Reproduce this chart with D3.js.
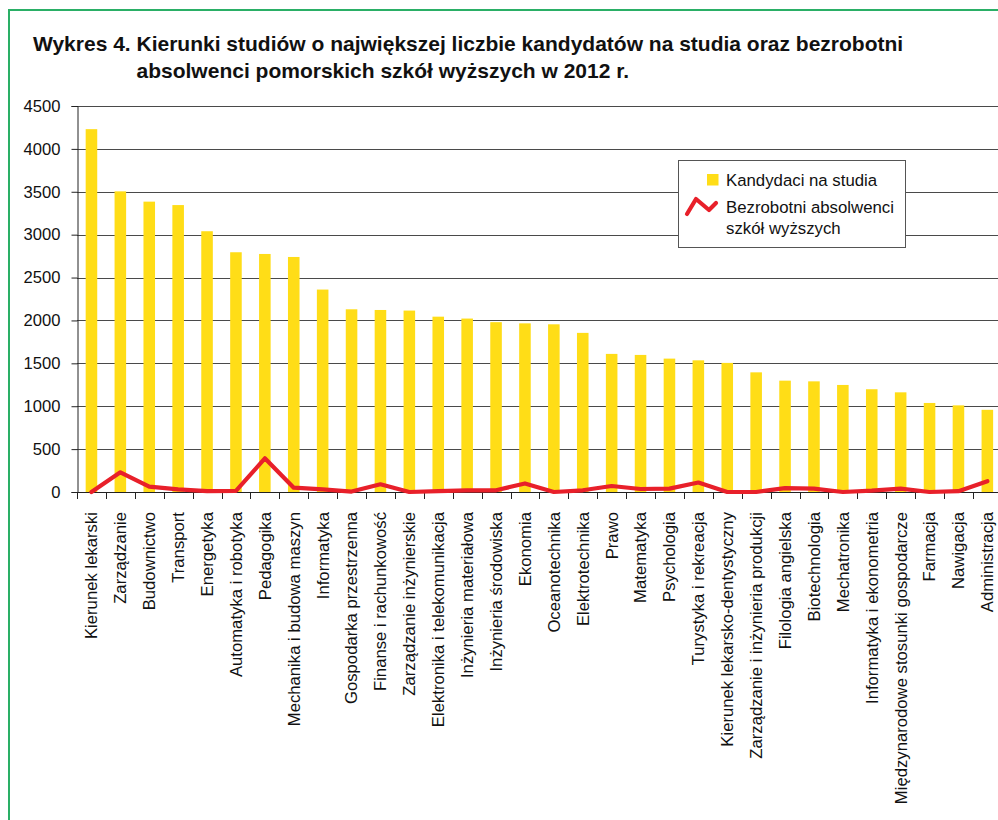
<!DOCTYPE html>
<html>
<head>
<meta charset="utf-8">
<script src="https://cdn.jsdelivr.net/npm/d3@7"></script>
<style>
  body { margin: 0; background: #fff; }
  svg { display: block; font-family: "Liberation Sans", Arial, sans-serif; }
</style>
</head>
<body>
<svg id="chart" width="998" height="820"></svg>
<script>
// kierunki studiow
const categories = [
  'Kierunek lekarski', 'Zarządzanie', 'Budownictwo', 'Transport', 'Energetyka',
  'Automatyka i robotyka', 'Pedagogika', 'Mechanika i budowa maszyn', 'Informatyka',
  'Gospodarka przestrzenna', 'Finanse i rachunkowość', 'Zarządzanie inżynierskie',
  'Elektronika i telekomunikacja', 'Inżynieria materiałowa', 'Inżynieria środowiska',
  'Ekonomia', 'Oceanotechnika', 'Elektrotechnika', 'Prawo', 'Matematyka', 'Psychologia',
  'Turystyka i rekreacja', 'Kierunek lekarsko-dentystyczny', 'Zarządzanie i inżynieria produkcji',
  'Filologia angielska', 'Biotechnologia', 'Mechatronika', 'Informatyka i ekonometria',
  'Międzynarodowe stosunki gospodarcze', 'Farmacja', 'Nawigacja', 'Administracja'
];

const kandydaci = [
  4230, 3505, 3385, 3345, 3040, 2795, 2775, 2740, 2360, 2130, 2122, 2115,
  2044, 2022, 1980, 1966, 1955, 1855, 1610, 1598, 1555, 1535, 1505, 1395,
  1298, 1290, 1248, 1198, 1162, 1038, 1010, 958
];

const bezrobotni = [
  0, 230, 62, 31, 10, 12, 393, 50, 31, 5, 90, 0,
  10, 20, 20, 100, 0, 20, 70, 35, 40, 110, 0, 0,
  45, 40, 0, 15, 40, 0, 10, 125
];

const yTicks = [0, 500, 1000, 1500, 2000, 2500, 3000, 3500, 4000, 4500];

const titlePrefix = 'Wykres 4. ';
const titleLines = [
  'Kierunki studiów o największej liczbie kandydatów na studia oraz bezrobotni',
  'absolwenci pomorskich szkół wyższych w 2012 r.'
];

const svg = d3.select('#chart');

// ramka
svg.append('rect')
  .attr('x', 9).attr('y', 10).attr('width', 1200).attr('height', 1000)
  .attr('fill', 'none').attr('stroke', '#2aaf66').attr('stroke-width', 2);

// tytul - druga linia wyrownana do "Kierunki"
const title = svg.append('text').attr('x', 33).attr('y', 51)
  .attr('font-size', 21).attr('font-weight', 'bold').attr('fill', '#111');
const pre = title.append('tspan').text(titlePrefix);
title.append('tspan').text(titleLines[0]);
const indent = 33 + pre.node().getComputedTextLength();
svg.append('text').attr('x', indent).attr('y', 78)
  .attr('font-size', 21).attr('font-weight', 'bold').attr('fill', '#111')
  .text(titleLines[1]);

const plotLeft = 77, plotTop = 106, plotBottom = 492, step = 28.9;
const plotRight = plotLeft + step * categories.length;

const x = d3.scaleBand().domain(categories).range([plotLeft, plotRight]).padding(0);
const xBar = d3.scaleBand().domain(categories).range([plotLeft, plotRight])
  .paddingInner(0.6).paddingOuter(0.3);
const y = d3.scaleLinear().domain([0, 4500]).range([plotBottom, plotTop]);

// siatka
svg.append('g').selectAll('line').data(yTicks.filter(d => d > 0)).enter()
  .append('line')
  .attr('x1', plotLeft).attr('x2', 998)
  .attr('y1', d => Math.round(y(d)) + 0.5).attr('y2', d => Math.round(y(d)) + 0.5)
  .attr('stroke', '#4a4a4a').attr('stroke-width', 1.2);

// slupki
svg.append('g').selectAll('rect').data(categories).enter()
  .append('rect')
  .attr('x', d => xBar(d))
  .attr('width', xBar.bandwidth())
  .attr('y', (d, i) => y(kandydaci[i]))
  .attr('height', (d, i) => y(0) - y(kandydaci[i]))
  .attr('fill', '#ffdd17');

// os Y
const yAxis = svg.append('g')
  .attr('transform', `translate(${plotLeft + 0.5},0)`)
  .call(d3.axisLeft(y).tickValues(yTicks).tickSize(6).tickPadding(11).tickFormat(d3.format('d')));
yAxis.select('.domain').attr('stroke', '#222');
yAxis.selectAll('.tick line').attr('stroke', '#222');
yAxis.selectAll('text').attr('font-size', 16.6).attr('fill', '#111')
  .attr('font-family', '"Liberation Sans", Arial, sans-serif');

// os X
svg.append('line')
  .attr('x1', plotLeft).attr('x2', 998)
  .attr('y1', plotBottom + 0.5).attr('y2', plotBottom + 0.5)
  .attr('stroke', '#222');
svg.append('g').selectAll('line').data(categories).enter()
  .append('line')
  .attr('x1', d => Math.round(x(d)) + 0.5).attr('x2', d => Math.round(x(d)) + 0.5)
  .attr('y1', plotBottom).attr('y2', plotBottom + 7)
  .attr('stroke', '#222');

svg.append('g').selectAll('text').data(categories).enter()
  .append('text')
  .attr('transform', d => `translate(${x(d) + x.bandwidth() / 2},512) rotate(-90)`)
  .attr('text-anchor', 'end')
  .attr('dy', '0.35em')
  .attr('font-size', 16.7).attr('fill', '#111')
  .text(d => d);

// linia bezrobotnych
const line = d3.line()
  .x((d, i) => x(categories[i]) + x.bandwidth() / 2)
  .y(d => y(d));
svg.append('path').datum(bezrobotni)
  .attr('d', line)
  .attr('fill', 'none').attr('stroke', '#e8202a').attr('stroke-width', 4.2)
  .attr('stroke-linejoin', 'round').attr('stroke-linecap', 'round');

// legenda
const lg = svg.append('g');
lg.append('rect').attr('x', 678.5).attr('y', 160.5).attr('width', 227).attr('height', 87)
  .attr('fill', '#fff').attr('stroke', '#555').attr('stroke-width', 1);
lg.append('rect').attr('x', 707).attr('y', 174).attr('width', 11.5).attr('height', 11.5)
  .attr('fill', '#ffdd17');
lg.append('path').attr('d', 'M687,214 L696,199 L709,210 L716,203')
  .attr('fill', 'none').attr('stroke', '#e8202a').attr('stroke-width', 4.2)
  .attr('stroke-linejoin', 'round').attr('stroke-linecap', 'round');
const legendTexts = [['Kandydaci na studia', 186], ['Bezrobotni absolwenci', 213], ['szkół wyższych', 233.5]];
lg.selectAll('text.lt').data(legendTexts).enter()
  .append('text').attr('class', 'lt')
  .attr('x', 726).attr('y', d => d[1])
  .attr('font-size', 16.8).attr('fill', '#111')
  .text(d => d[0]);
</script>
</body>
</html>
